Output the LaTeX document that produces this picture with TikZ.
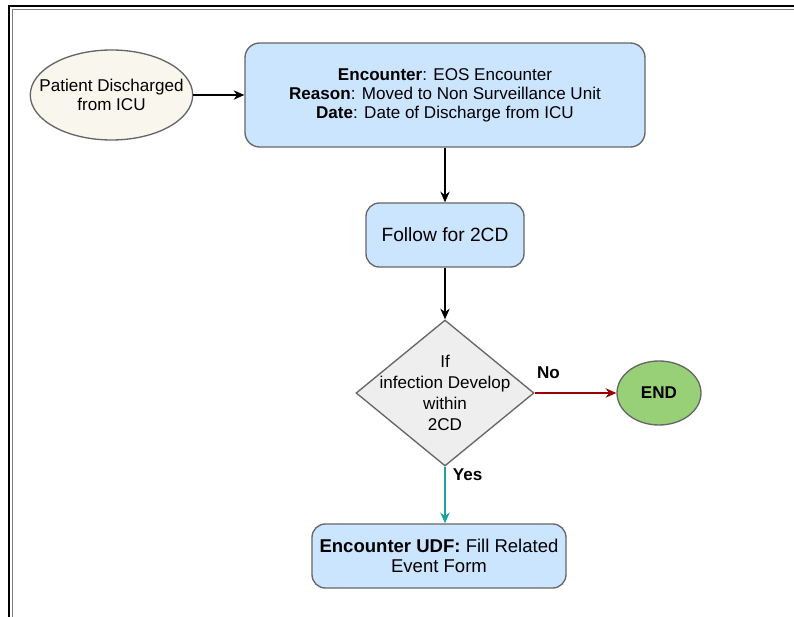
\documentclass[tikz,border=0pt]{standalone}
\usepackage{fontspec}
\setmainfont{Liberation Sans}
\usetikzlibrary{shapes.geometric,arrows.meta}
\definecolor{boxblue}{HTML}{CCE5FF}
\definecolor{startcream}{HTML}{F9F7ED}
\definecolor{decgray}{HTML}{EEEEEE}
\definecolor{endgreen}{HTML}{97D077}
\definecolor{edgegray}{HTML}{666666}
\definecolor{noline}{HTML}{990000}
\definecolor{yesline}{HTML}{1BA1A1}
\begin{document}
\begin{tikzpicture}[x=0.75pt,y=-0.75pt,
  every node/.style={font=\fontsize{12.8}{14.3}\selectfont},
  startnode/.style={ellipse,draw=edgegray,fill=startcream,line width=1pt,
    minimum width=119pt,minimum height=67.5pt,inner sep=-11pt,align=center},
  procbox/.style={draw=edgegray,fill=boxblue,line width=1pt,rounded corners=11pt,
    inner sep=0pt,align=center},
  decision/.style={diamond,aspect=1.22,draw=edgegray,fill=decgray,line width=1pt,
    minimum width=133.5pt,minimum height=109.5pt,inner sep=-12pt,align=center,
    font=\fontsize{12.8}{15.8}\selectfont},
  endnode/.style={ellipse,draw=edgegray,fill=endgreen,line width=1pt,
    minimum width=63pt,minimum height=48pt,inner sep=0pt},
  flow/.style={-{Stealth[length=8pt,width=7pt]},line width=1.1pt},
  flowlabel/.style={font=\bfseries\fontsize{12.8}{14.3}\selectfont}]
\useasboundingbox (0,0) rectangle (794,617);
% frame
\draw[line width=1.8pt] (9,617) -- (9,6) -- (794,6);
\draw[gray,line width=0.8pt] (12.5,617) -- (12.5,9.8) -- (794,9.8);
% nodes
\node[startnode] (discharge) at (111.5,95) {Patient Discharged\\from ICU};
\node[procbox,minimum width=300pt,minimum height=78pt] (eos) at (445,95)
  {\textbf{Encounter}: EOS Encounter\\\textbf{Reason}: Moved to Non Surveillance Unit\\\textbf{Date}: Date of Discharge from ICU};
\node[procbox,minimum width=118.5pt,minimum height=48pt,rounded corners=10pt,
  font=\fontsize{14.4}{16}\selectfont] (follow) at (445,235) {Follow for 2CD};
\node[decision] (infect) at (445,393) {If\\infection Develop\\within\\2CD};
\node[endnode] (finish) at (659,393) {\textbf{END}};
\node[procbox,minimum width=190.5pt,minimum height=48pt,rounded corners=10pt,
  font=\fontsize{13.9}{15}\selectfont] (udf) at (439,556)
  {\textbf{Encounter UDF:} Fill Related\\Event Form};
% connectors
\draw[flow] (discharge) -- (eos);
\draw[flow] (eos) -- (follow);
\draw[flow] (follow) -- (infect);
\draw[flow,noline] (infect.east) -- node[flowlabel,pos=0.17,above=7pt,text=black] (nolab) {No} (finish);
\draw[flow,yesline] (infect.south) -- node[flowlabel,pos=0.14,right=2pt,text=black] (yeslab) {Yes} (infect.south |- udf.north);
\end{tikzpicture}
\end{document}
